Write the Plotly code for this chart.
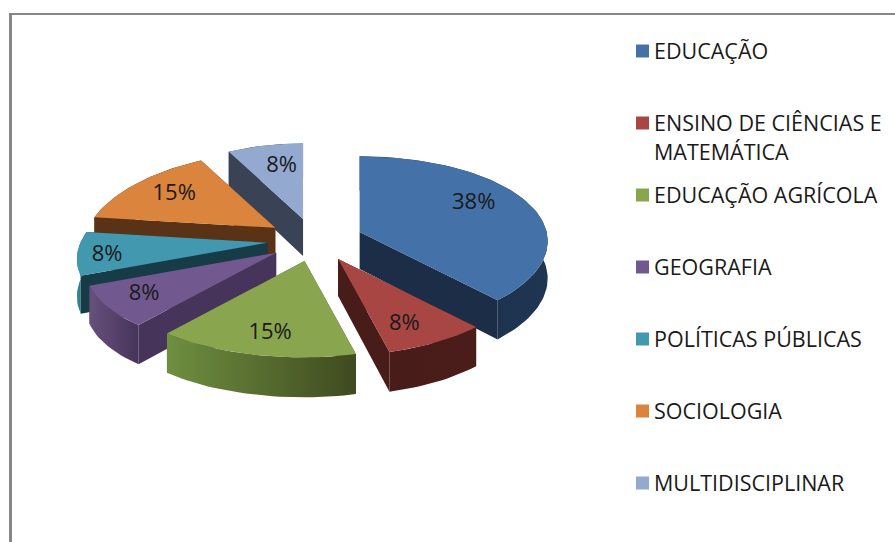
import math
import plotly.graph_objects as go

categories = ["EDUCAÇÃO", "ENSINO DE CIÊNCIAS E MATEMÁTICA", "EDUCAÇÃO AGRÍCOLA", "GEOGRAFIA",
              "POLÍTICAS PÚBLICAS", "SOCIOLOGIA", "MULTIDISCIPLINAR"]
values = [38, 8, 15, 8, 8, 15, 8]
top_colors = ["#4471a7", "#a84643", "#89a54e", "#71588f", "#4198af", "#db843d", "#93a9cf"]
wall_colors = ["#1b2d47", "#481c19", "#3f4a20", "#46345a", "#173c47", "#5a3215", "#3a4355"]
rim_left = ["#1b2d47", "#481c19", "#6f8f40", "#66507c", "#3a92a8", "#5a3215", "#3a4355"]
rim_right = ["#1f3552", "#4a1d1a", "#3f4a20", "#46345a", "#173c47", "#5a3215", "#3a4355"]
draw_order = [6, 5, 4, 3, 0, 1, 2]
label_dx = [-1, 1, -3, -21, -32, -4, 6]
label_dy = [-8, 11, 11, 6, 5, -2, 0]

CX, CY, RX, RY, EXPLODE, DEPTH = 315, 240, 187, 86, 48, 37
KX_RIGHT, KX_LEFT, KY, KD = 0.107, 0.2, 0.12, 0.08
LABEL_F = 0.68
FONT = "Open Sans"


def proj(a, r=1.0):
    s, c = math.sin(a), math.cos(a)
    kx = KX_LEFT if s < 0 else KX_RIGHT
    return RX * s * r * (1 - kx * c * r), -RY * c * r * (1 - KY * c * r)


def depth(a):
    return DEPTH * (1 - KD * math.cos(a))


total = sum(values)
slices = []
acc = 0.0
for v in values:
    a1 = acc / total * 2 * math.pi
    acc += v
    a2 = acc / total * 2 * math.pi
    slices.append((a1, a2))

fig = go.Figure()


def poly(xs, ys, color=None, grad=None):
    kw = dict(x=xs + xs[:1], y=ys + ys[:1], mode="lines", line=dict(width=0),
              fill="toself", hoverinfo="skip", showlegend=False)
    if grad:
        kw["fillgradient"] = dict(type="horizontal", colorscale=[[0, grad[0]], [1, grad[1]]])
    else:
        kw["fillcolor"] = color
    fig.add_trace(go.Scatter(**kw))


labels = []
for i in draw_order:
    a1, a2 = slices[i]
    mid = (a1 + a2) / 2
    tx = CX + EXPLODE * math.sin(mid)
    ty = CY - EXPLODE * 0.45 * math.cos(mid)
    n = max(4, int((a2 - a1) / 0.03))
    angles = [a1 + (a2 - a1) * j / n for j in range(n + 1)]
    arc = [proj(a) for a in angles]
    ax = [tx + p[0] for p in arc]
    ay = [ty + p[1] for p in arc]
    by = [y + depth(a) for y, a in zip(ay, angles)]
    # cut faces
    for k in (0, -1):
        poly([tx, ax[k], ax[k], tx], [ty, ay[k], by[k], ty + DEPTH], wall_colors[i])
    # outer rim
    poly(ax + ax[::-1], ay + by[::-1], grad=(rim_left[i], rim_right[i]))
    # top face
    poly([tx] + ax, [ty] + ay, top_colors[i])
    lx, ly = proj(mid, LABEL_F)
    labels.append((tx + lx + label_dx[i], ty + ly + label_dy[i], f"{round(values[i] / total * 100)}%"))

fig.add_trace(go.Scatter(x=[l[0] for l in labels], y=[l[1] for l in labels],
                         text=[l[2] for l in labels], mode="text",
                         textfont=dict(family=FONT, size=22, color="#1a1a1a"),
                         hoverinfo="skip", showlegend=False))

# legend
legend_lines = [["EDUCAÇÃO"], ["ENSINO DE CIÊNCIAS E", "MATEMÁTICA"], ["EDUCAÇÃO AGRÍCOLA"], ["GEOGRAFIA"],
                ["POLÍTICAS PÚBLICAS"], ["SOCIOLOGIA"], ["MULTIDISCIPLINAR"]]
legend_y = [51, 123, 195, 267, 339, 411, 483]
for name, color, lines, y in zip(categories, top_colors, legend_lines, legend_y):
    fig.add_trace(go.Scatter(x=[642.5], y=[y], mode="markers", name=name, hoverinfo="skip", showlegend=False,
                             marker=dict(symbol="square", size=13, color=color, line=dict(width=0))))
    for j, line in enumerate(lines):
        fig.add_annotation(x=652, y=y - 1 + j * 29, text=line, showarrow=False, xanchor="left", yanchor="middle",
                           xref="x", yref="y", font=dict(family=FONT, size=21.5, color="#1a1a1a"))

fig.update_layout(
    width=895, height=542, margin=dict(l=0, r=0, t=0, b=0), autosize=False,
    paper_bgcolor="white", plot_bgcolor="white", showlegend=False,
    xaxis=dict(range=[0, 895], visible=False, fixedrange=True),
    yaxis=dict(range=[542, 0], visible=False, fixedrange=True),
    shapes=[
        dict(type="line", xref="x", yref="y", x0=10.5, x1=10.5, y0=13, y1=542, line=dict(color="#868686", width=3)),
        dict(type="line", xref="x", yref="y", x0=9, x1=895, y0=14, y1=14, line=dict(color="#868686", width=2)),
    ],
)
fig.write_html("out.html", config=dict(displayModeBar=False),
               post_script="document.body.style.margin='0';document.body.style.overflow='hidden';")
